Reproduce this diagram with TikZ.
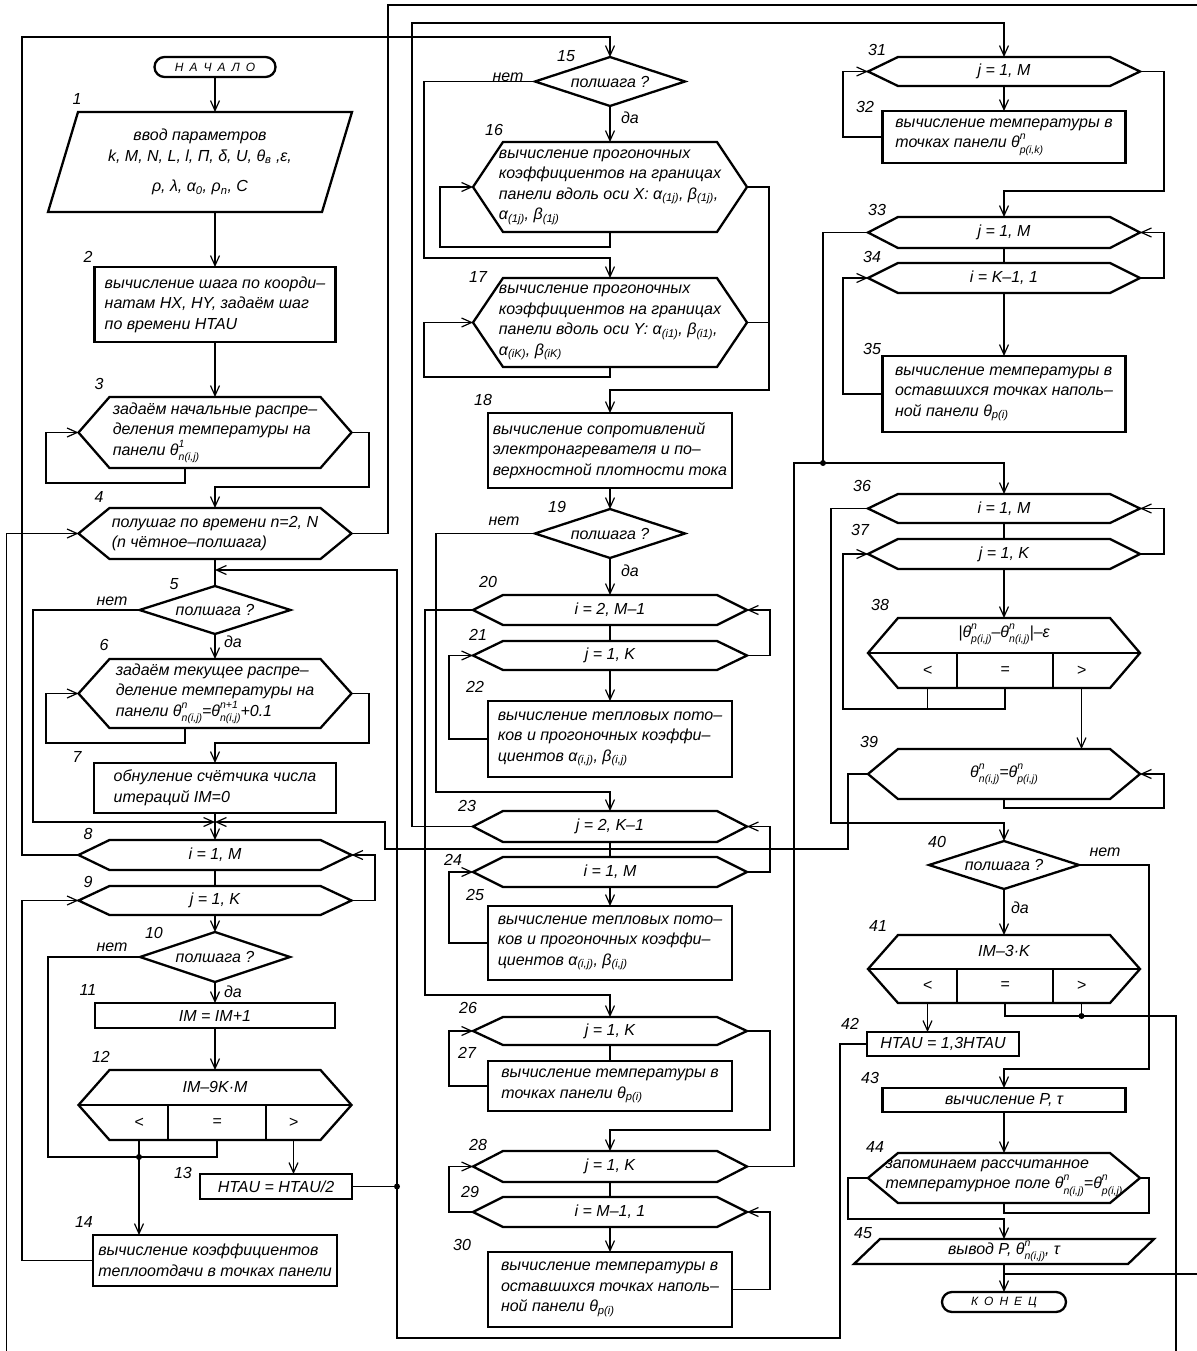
\documentclass[tikz,border=0pt]{standalone}
\usepackage{fontspec}
\setmainfont{Liberation Sans}
\usetikzlibrary{arrows.meta,calc}
\newcommand\supsub[2]{\rlap{\raisebox{0.95ex}{\fontsize{10.5}{11}\selectfont #1}}\raisebox{-0.6ex}{\fontsize{10.5}{11}\selectfont #2}}
\newcommand\hexo[2][30]{\draw[blk] (#2.west) -- ($(#2.north west)+(#1,0)$) -- ($(#2.north east)+(-#1,0)$) -- (#2.east) -- ($(#2.south east)+(-#1,0)$) -- ($(#2.south west)+(#1,0)$) -- cycle;}
\newcommand\diam[1]{\draw[blk] (#1.west) -- (#1.north) -- (#1.east) -- (#1.south) -- cycle;}
\newcommand\parl[2]{\draw[blk] ($(#1.north west)+(#2,0)$) -- (#1.north east) -- ($(#1.south east)+(-#2,0)$) -- (#1.south west) -- cycle;}
\newcommand\ls{\hspace{6pt}}
\begin{document}
\begin{tikzpicture}[x=1pt,y=-1pt,
  shp/.style={font=\itshape\fontsize{16}{20.5}\selectfont, align=left, inner sep=0pt, outer sep=0pt},
  rbox/.style={shp, draw, line width=2.3pt},
  blk/.style={line width=2.3pt},
  ln/.style={line width=1.2pt},
  arr/.style={ln, -{Straight Barb[length=10pt,width=9pt]}},
  num/.style={font=\itshape\fontsize{16}{18}\selectfont, inner sep=0pt},
  term/.style={rbox, rounded corners=10pt, font=\itshape\fontsize{12}{14}\selectfont, align=center},
  cell/.style={shp, align=center},
  dot/.style={circle, fill, inner sep=0pt, minimum size=6pt}]
\useasboundingbox[fill=white] (0,0) rectangle (1196,1351);

% ---------- column 1 ----------
\node[term, minimum width=121, minimum height=20] (start) at (215,67) {Н\ls А\ls Ч\ls А\ls Л\ls О};
\node[shp, align=center, minimum width=304, minimum height=100] (b1) at (200,162) {ввод параметров\\k, M, N, L, l, П, δ, U, θ\textsubscript{в} ,ε,\\[10pt]ρ, λ, α\textsubscript{0}, ρ\textsubscript{n}, C};
\parl{b1}{30}
\node[rbox, minimum width=241, minimum height=75] (b2) at (215,304.5) {вычисление шага по коорди–\\натам HX, HY, задаём шаг\\по времени HTAU};
\node[shp, minimum width=273, minimum height=71] (b3) at (215,432.5) {задаём начальные распре–\\деления температуры на\\панели θ\supsub{1}{n(i,j)}};
\hexo[31]{b3}
\node[shp, minimum width=273, minimum height=51] (b4) at (215,533.5) {полушаг по времени n=2, N\\(n чётное–полшага)};
\hexo[31]{b4}
\node[shp, align=center, minimum width=151, minimum height=48] (d5) at (215,610) {полшага ?};
\diam{d5}
\node[shp, minimum width=273, minimum height=69] (b6) at (215,693.5) {задаём текущее распре–\\деление температуры на\\панели θ\supsub{n}{n(i,j)}=θ\supsub{n+1}{n(i,j)}+0.1};
\hexo[31]{b6}
\node[rbox, minimum width=242, minimum height=50] (b7) at (215,788) {обнуление счётчика числа\\итераций IM=0};
\node[shp, align=center, minimum width=273, minimum height=30] (b8) at (215,855) {i = 1, M};
\hexo[31]{b8}
\node[shp, align=center, minimum width=273, minimum height=29] (b9) at (215,900.5) {j = 1, K};
\hexo[31]{b9}
\node[shp, align=center, minimum width=150, minimum height=50] (d10) at (215,957) {полшага ?};
\diam{d10}
\node[rbox, align=center, minimum width=240, minimum height=25] (b11) at (215,1015.5) {IM = IM+1};
\node[shp, minimum width=273, minimum height=70] (b12) at (215,1105) {};
\hexo[31]{b12}
\draw[blk] (b12.west) -- (b12.east);
\node[cell] (t12) at (215,1087) {IM–9K·M};
\node[cell, minimum width=58, minimum height=35] (c12l) at (139,1122.5) {<};
\node[cell, minimum width=98, minimum height=35] (c12e) at (217,1122.5) {=};
\node[cell, minimum width=55, minimum height=35] (c12g) at (293.5,1122.5) {>};
\draw[blk] (c12l.north east) -- (c12l.south east) (c12e.north east) -- (c12e.south east);
\node[rbox, align=center, minimum width=152, minimum height=25] (b13) at (276,1186.5) {HTAU = HTAU/2};
\node[rbox, minimum width=244, minimum height=51] (b14) at (215,1260.5) {вычисление коэффициентов\\теплоотдачи в точках панели};

% ---------- column 2 ----------
\node[shp, align=center, minimum width=150, minimum height=49] (d15) at (610,81.5) {полшага ?};
\diam{d15}
\node[shp, minimum width=274, minimum height=90] (b16) at (610,187) {вычисление прогоночных\\коэффициентов на границах\\панели вдоль оси X: α\textsubscript{(1j)}, β\textsubscript{(1j)},\\α\textsubscript{(1j)}, β\textsubscript{(1j)}};
\hexo{b16}
\node[shp, minimum width=274, minimum height=89] (b17) at (610,322.5) {вычисление прогоночных\\коэффициентов на границах\\панели вдоль оси Y: α\textsubscript{(i1)}, β\textsubscript{(i1)},\\α\textsubscript{(iK)}, β\textsubscript{(iK)}};
\hexo{b17}
\node[rbox, minimum width=244, minimum height=75] (b18) at (610,450.5) {вычисление сопротивлений\\электронагревателя и по–\\верхностной плотности тока};
\node[shp, align=center, minimum width=150, minimum height=49] (d19) at (610,533.5) {полшага ?};
\diam{d19}
\node[shp, align=center, minimum width=274, minimum height=30] (b20) at (610,610) {i = 2, M–1};
\hexo{b20}
\node[shp, align=center, minimum width=274, minimum height=29] (b21) at (610,655.5) {j = 1, K};
\hexo{b21}
\node[rbox, minimum width=244, minimum height=76] (b22) at (610,739) {вычисление тепловых пото–\\ков и прогоночных коэффи–\\циентов α\textsubscript{(i,j)}, β\textsubscript{(i,j)}};
\node[shp, align=center, minimum width=274, minimum height=31] (b23) at (610,826.5) {j = 2, K–1};
\hexo{b23}
\node[shp, align=center, minimum width=274, minimum height=30] (b24) at (610,872) {i = 1, M};
\hexo{b24}
\node[rbox, minimum width=244, minimum height=74] (b25) at (610,943) {вычисление тепловых пото–\\ков и прогоночных коэффи–\\циентов α\textsubscript{(i,j)}, β\textsubscript{(i,j)}};
\node[shp, align=center, minimum width=274, minimum height=28] (b26) at (610,1031) {j = 1, K};
\hexo{b26}
\node[rbox, minimum width=244, minimum height=50] (b27) at (610,1086) {вычисление температуры в\\точках панели θ\textsubscript{p(i)}};
\node[shp, align=center, minimum width=274, minimum height=31] (b28) at (610,1166.5) {j = 1, K};
\hexo{b28}
\node[shp, align=center, minimum width=274, minimum height=30] (b29) at (610,1212) {i = M–1, 1};
\hexo{b29}
\node[rbox, minimum width=244, minimum height=75] (b30) at (610,1289.5) {вычисление температуры в\\оставшихся точках наполь–\\ной панели θ\textsubscript{p(i)}};

% ---------- column 3 ----------
\node[shp, align=center, minimum width=272, minimum height=29] (b31) at (1004,71.5) {j = 1, M};
\hexo{b31}
\node[rbox, minimum width=243, minimum height=52] (b32) at (1004,137) {вычисление температуры в\\точках панели θ\supsub{n}{p(i,k)}};
\node[shp, align=center, minimum width=272, minimum height=31] (b33) at (1004,232.5) {j = 1, M};
\hexo{b33}
\node[shp, align=center, minimum width=272, minimum height=30] (b34) at (1004,278) {i = K–1, 1};
\hexo{b34}
\node[rbox, minimum width=243, minimum height=76] (b35) at (1004,394) {вычисление температуры в\\оставшихся точках наполь–\\ной панели θ\textsubscript{p(i)}};
\node[shp, align=center, minimum width=272, minimum height=29] (b36) at (1004,508.5) {i = 1, M};
\hexo{b36}
\node[shp, align=center, minimum width=272, minimum height=30] (b37) at (1004,554) {j = 1, K};
\hexo{b37}
\node[shp, minimum width=272, minimum height=70] (b38) at (1004,653) {};
\hexo{b38}
\draw[blk] (b38.west) -- (b38.east);
\node[cell] (t38) at (1004,634) {|θ\supsub{n}{p(i,j)}–θ\supsub{n}{n(i,j)}|–ε};
\node[cell, minimum width=59, minimum height=35] (c38l) at (927.5,670.5) {<};
\node[cell, minimum width=96, minimum height=35] (c38e) at (1005,670.5) {=};
\node[cell, minimum width=57, minimum height=35] (c38g) at (1081.5,670.5) {>};
\draw[blk] (c38l.north east) -- (c38l.south east) (c38e.north east) -- (c38e.south east);
\node[shp, align=center, minimum width=272, minimum height=50] (b39) at (1004,774) {θ\supsub{n}{n(i,j)}=θ\supsub{n}{p(i,j)}};
\hexo{b39}
\node[shp, align=center, minimum width=150, minimum height=48] (d40) at (1004,865) {полшага ?};
\diam{d40}
\node[shp, minimum width=272, minimum height=68] (b41) at (1004,969) {};
\hexo{b41}
\draw[blk] (b41.west) -- (b41.east);
\node[cell] (t41) at (1004,951) {IM–3·K};
\node[cell, minimum width=59, minimum height=34] (c41l) at (927.5,986) {<};
\node[cell, minimum width=96, minimum height=34] (c41e) at (1005,986) {=};
\node[cell, minimum width=57, minimum height=34] (c41g) at (1081.5,986) {>};
\draw[blk] (c41l.north east) -- (c41l.south east) (c41e.north east) -- (c41e.south east);
\node[rbox, align=center, minimum width=152, minimum height=24] (b42) at (943,1044) {HTAU = 1,3HTAU};
\node[rbox, align=center, minimum width=243, minimum height=24] (b43) at (1004,1100) {вычисление P, τ};
\node[shp, minimum width=272, minimum height=50] (b44) at (1004,1178) {запоминаем рассчитанное\\температурное поле θ\supsub{n}{n(i,j)}=θ\supsub{n}{p(i,j)}};
\hexo{b44}
\node[shp, align=center, minimum width=300, minimum height=25] (b45) at (1004,1251.5) {вывод P, θ\supsub{n}{n(i,j)}, τ};
\parl{b45}{26}
\node[term, minimum width=124, minimum height=20] (end) at (1004,1302) {К\ls О\ls Н\ls Е\ls Ц};

% ---------- dots and junctions ----------
\node[dot] (dA) at (397,1186.5) {};
\node[dot] (dB) at (139,1157) {};
\node[dot] (dC) at (1081.5,1016) {};
\node[dot] (dD) at (823,463) {};
\coordinate (j5) at (215,570);
\coordinate (j78) at (215,822);
\coordinate (j45) at (1004,1274);

% ---------- labels ----------
\foreach \t/\x/\y in {1/77/99, 2/88/257, 3/99/384, 4/99/497, 5/174/584, 6/104/645, 7/77/757, 8/88/834, 9/88/882, 10/154/933, 11/88/990, 12/101/1057, 13/183/1173, 14/84/1222,
 15/566/56, 16/494/130, 17/478/277, 18/483/400, 19/557/507, 20/488/582, 21/478/635, 22/475/687, 23/467/806, 24/453/860, 25/475/895, 26/468/1008, 27/467/1053, 28/478/1145, 29/470/1192, 30/462/1245,
 31/877/50, 32/865/107, 33/877/210, 34/872/257, 35/872/349, 36/862/486, 37/860/530, 38/880/605, 39/869/742, 40/937/842, 41/878/926, 42/850/1024, 43/870/1078, 44/875/1147, 45/863/1233}
  \node[num] (n\t) at (\x,\y) {\t};
\foreach \n/\t/\x/\y in {a/нет/112/601, b/да/233/642, c/нет/112/947, d/да/233/992, e/нет/508/77, f/да/630/118, g/нет/504/521, h/да/630/571, i/нет/1105/852, k/да/1020/908}
  \node[num] (y\n) at (\x,\y) {\t};

% ---------- connectors column 1 ----------
\draw[arr] (start.south) -- (start.south |- b1.north);
\draw[arr] (b2.north |- b1.south) -- (b2.north);
\draw[arr] (b2.south) -- (b3.north);
\draw[arr] ($(b3.south)+(-30,0)$) |- (46,483) |- (b3.west);
\draw[arr] (b3.east) -| (369,487) -| (b4.north);
\draw[ln] (b4.east) -| (388,5) -| (1203,1274) -- (j45);
\draw[ln] (b4.south) -- (d5.north);
\draw[ln] (b13.east) -- (dA.center);
\draw[arr] (dA.center) |- (j5);
\draw[arr] (d5.west) -| (33,822) -- (j78);
\draw[arr] (d5.south) -- (b6.north);
\draw[arr] ($(b6.south)+(-30,0)$) |- (46,743) |- (b6.west);
\draw[arr] (b6.east) -| (369,743) -| (b7.north);
\draw[arr] (b7.south) -- (b8.north);
\draw[arr] (b39.west) -| (848,849) -| (385,822) -- (j78);
\draw[arr] (b8.west) -| (22,37) -| (d15.north);
\draw[ln] (b8.south) -- (b9.north);
\draw[arr] (b9.east) -| (375,880) |- (b8.east);
\draw[arr] (b14.west) -| (22,950) |- (b9.west);
\draw[arr] (b9.south) -- (d10.north);
\draw[ln] (d10.west) -| (48,1157) -- (dB.center);
\draw[arr] (d10.south) -- (b11.north);
\draw[arr] (b11.south) -- (b12.north);
\draw[ln] (c12l.south) -- (dB.center);
\draw[ln] (c12e.south) |- (dB.center);
\draw[arr] (c12g.south) -- (c12g.south |- b13.north);
\draw[arr] (dB.center) -- (dB.center |- b14.north);
\draw[ln] (b42.west) -| (840,1338) -| (dA.center);
\draw[arr] (dC.center) -| (1176,1362) -| ($(b4.west)+(-72,0)$) -- (b4.west);

% ---------- connectors column 2 ----------
\draw[arr] (d15.west) -| (424,258) -| (b17.north);
\draw[arr] (d15.south) -- (b16.north);
\draw[arr] (b16.south) |- (440,247) |- (b16.west);
\draw[arr] (b16.east) -| (769,390) -| (b18.north);
\draw[ln] (b17.east) -- ++(22,0);
\draw[arr] (b17.south) |- (424,377) |- (b17.west);
\draw[arr] (b18.south) -- (d19.north);
\draw[arr] (d19.west) -| (436,792) -| (b23.north);
\draw[arr] (d19.south) -- (b20.north);
\draw[arr] (b20.west) -| (425,995) -| (b26.north);
\draw[ln] (b20.south) -- (b21.north);
\draw[arr] (b21.east) -| (770,630) |- (b20.east);
\draw[arr] (b21.south) -- (b22.north);
\draw[arr] (b22.west) -| (449,700) |- (b21.west);
\draw[arr] (b23.west) -| (412,23) -| (b31.north);
\draw[ln] (b23.south) -- (b24.north);
\draw[arr] (b24.east) -| (770,850) |- (b23.east);
\draw[arr] (b24.south) -- (b25.north);
\draw[arr] (b25.west) -| (449,900) |- (b24.west);
\draw[ln] (b26.south) -- (b27.north);
\draw[arr] (b27.west) -| (449,1060) |- (b26.west);
\draw[arr] (b26.east) -| (770,1130) -| (b28.north);
\draw[ln] (b28.south) -- (b29.north);
\draw[arr] (b29.west) -| (449,1190) |- (b28.west);
\draw[arr] (b29.south) -- (b30.north);
\draw[arr] (b30.east) -| (770,1250) |- (b29.east);
\draw[arr] (b28.east) -| (794,463) -| (b36.north);

% ---------- connectors column 3 ----------
\draw[arr] (b31.south) -- (b32.north);
\draw[arr] (b32.west) -| (843,100) |- (b31.west);
\draw[arr] (b31.east) -| (1164,191) -| (b33.north);
\draw[ln] (b33.south) -- (b34.north);
\draw[arr] (b34.east) -| (1164,255) |- (b33.east);
\draw[arr] (b34.south) -- (b35.north);
\draw[arr] (b35.west) -| (843,330) |- (b34.west);
\draw[ln] (b33.west) -| (dD.center);
\draw[ln] (b36.south) -- (b37.north);
\draw[arr] (b37.east) -| (1164,530) |- (b36.east);
\draw[arr] (b37.south) -- (b38.north);
\draw[ln] (c38l.south) -- ++(0,21);
\draw[arr] (c38e.south) |- (843,709) |- (b37.west);
\draw[arr] (c38g.south) -- (c38g.south |- b39.north);
\draw[arr] (b39.south) |- (1164,808) |- (b39.east);
\draw[arr] (b36.west) -| (831,823) -| (d40.north);
\draw[arr] (d40.south) -- (b41.north);
\draw[arr] (d40.east) -| (1149,1069) -| (b43.north);
\draw[arr] (c41l.south) -- (c41l.south |- b42.north);
\draw[ln] (c41e.south) |- (dC.center);
\draw[ln] (c41g.south) -- (dC.center);
\draw[arr] (b43.south) -- (b44.north);
\draw[arr] (b44.west) -| (848,1219) -| (b45.north);
\draw[ln] (b44.south) |- (1149,1213) |- (b44.east);
\draw[arr] (b45.south) -- (end.north);
\end{tikzpicture}
\end{document}
